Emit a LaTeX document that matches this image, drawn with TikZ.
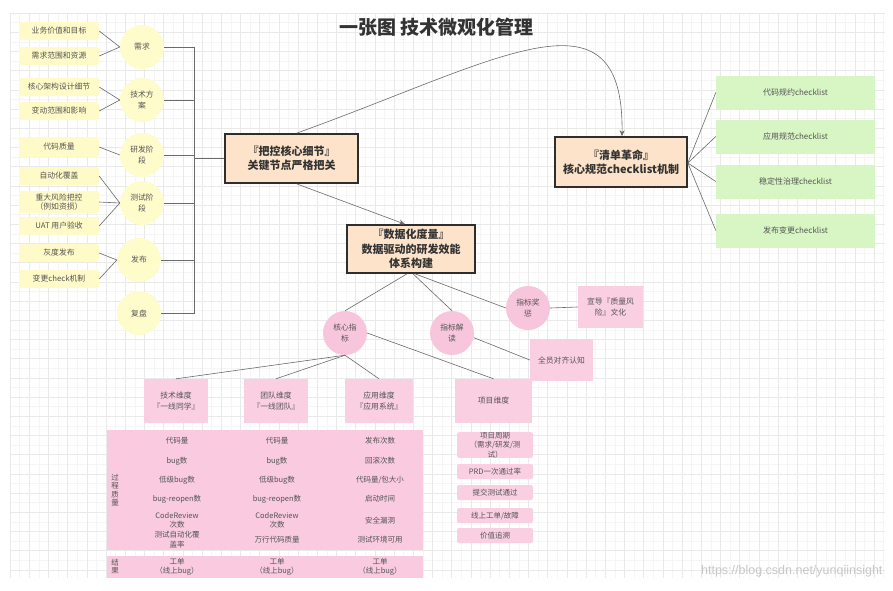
\documentclass[tikz,border=0pt]{standalone}
\usepackage{fontspec}
\setmainfont{Noto Sans CJK SC}
\newfontfamily\wmfont{Liberation Sans}
\usetikzlibrary{arrows.meta,calc}
\definecolor{yelC}{HTML}{FFFCCB}
\definecolor{yelF}{HTML}{FFFBC8}
\definecolor{peach}{HTML}{FCE3CA}
\definecolor{bord}{HTML}{2E2E2E}
\definecolor{grn}{HTML}{D8F5C4}
\definecolor{pinkC}{HTML}{F8C6DC}
\definecolor{pinkB}{HTML}{FACFE2}
\definecolor{pinkT}{HTML}{F9CAE0}
\definecolor{txt}{HTML}{555555}
\definecolor{dtxt}{HTML}{333333}
\definecolor{lineC}{HTML}{6A6A6A}
\definecolor{gmin}{HTML}{F6F5F6}
\definecolor{gmaj}{HTML}{EAE9EA}
\newcommand\fs[2]{\fontsize{#1}{#2}\selectfont}
\tikzset{
  leaf/.style={fill=yelF, rounded corners=2pt, minimum width=80pt, minimum height=18pt, inner sep=0pt, font=\fs{7.8}{9.5}, text=txt, align=center},
  ycirc/.style={circle, fill=yelC, minimum size=44pt, inner sep=0pt, font=\fs{7.8}{11}, text=txt, align=center},
  mainbox/.style={draw=bord, line width=1.6pt, fill=peach, inner sep=0pt, font=\fs{11}{14.5}\bfseries, text=dtxt, align=center},
  gbox/.style={fill=grn, minimum width=159pt, minimum height=34pt, inner sep=0pt, font=\fs{8}{10}, text=txt},
  pcirc/.style={circle, fill=pinkC, minimum size=44pt, inner sep=0pt, font=\fs{7.8}{11}, text=txt, align=center},
  pbox/.style={fill=pinkB, inner sep=0pt, font=\fs{7.8}{11}, text=txt, align=center},
  plist/.style={fill=pinkB, rounded corners=2pt, minimum width=76pt, minimum height=15pt, inner sep=0pt, font=\fs{7.5}{9.3}, text=txt, align=center},
  cell/.style={inner sep=0pt, font=\fs{7.5}{9.3}, text=txt, align=center},
  conn/.style={draw=lineC, line width=0.6pt},
  arr/.style={conn, -{Stealth[length=6pt,width=5pt]}},
}
\begin{document}
\begin{tikzpicture}[x=1pt,y=-1pt]
\useasboundingbox (0,0) rectangle (893,590);
\fill[white] (0,0) rectangle (893,590);
% grid
\begin{scope}
\clip (10,13) rectangle (885,578);
\foreach \i in {0,...,92} \draw[gmin, line width=0.4pt] ({10+9.6*\i},13) -- ({10+9.6*\i},578);
\foreach \j in {0,...,59} \draw[gmin, line width=0.4pt] (10,{13+9.6*\j}) -- (885,{13+9.6*\j});
\foreach \i in {0,...,46} \draw[gmaj, line width=0.5pt] ({10+19.2*\i},13) -- ({10+19.2*\i},578);
\foreach \j in {0,...,30} \draw[gmaj, line width=0.5pt] (10,{13+19.2*\j}) -- (885,{13+19.2*\j});
\end{scope}

% title
\node[font=\fs{19}{22}\bfseries, text=dtxt] (title) at (436.5,27) {一张图\ 技术微观化管理};

% left leaves
\node[leaf] (l1) at (59,31) {业务价值和目标};
\node[leaf] (l2) at (59,56) {需求范围和资源};
\node[leaf] (l3) at (59,87) {核心架构设计细节};
\node[leaf] (l4) at (59,111) {变动范围和影响};
\node[leaf, minimum height=20pt] (l5) at (59,147) {代码质量};
\node[leaf] (l6) at (59,176) {自动化覆盖};
\node[leaf, minimum height=22pt] (l7) at (59,202) {重大风险把控\\（例如资损）};
\node[leaf] (l8) at (59,226) {UAT 用户验收};
\node[leaf] (l9) at (59,253) {灰度发布};
\node[leaf] (l10) at (59,279) {变更check机制};

% yellow circles
\node[ycirc] (c1) at (142,47) {需求};
\node[ycirc] (c2) at (142,100) {技术方\\案};
\node[ycirc] (c3) at (142,155) {研发阶\\段};
\node[ycirc] (c4) at (142,203) {测试阶\\段};
\node[ycirc] (c5) at (139,260) {发布};
\node[ycirc] (c6) at (139,313) {复盘};

\foreach \a/\b in {l1/c1,l2/c1,l3/c2,l4/c2,l5/c3,l6/c4,l7/c4,l8/c4,l9/c5,l10/c5}
  \draw[conn] (\a.east) -- (\b.west);

% main boxes
\node[mainbox, minimum width=133pt, minimum height=49pt] (kz) at (291.5,158.5) {『把控核心细节』\\关键节点严格把关};
\node[mainbox, minimum width=132pt, minimum height=50pt] (qd) at (621,162) {『清单革命』\\核心规范checklist机制};
\node[mainbox, minimum width=128pt, minimum height=48pt] (dsj) at (411,249) {『数据化度量』\\数据驱动的研发效能\\体系构建};

% bus from circles to kz
\coordinate (bus) at (194,0);
\foreach \c in {c1,c2,c3,c4,c5,c6}
  \draw[conn] (\c.east) -- (\c.east -| bus) |- (kz.west);

% arrows
\draw[arr] ([xshift=5pt]kz.north) .. controls (500,60) and (624,-20) .. ([xshift=1pt]qd.north);
\draw[arr] ([xshift=5pt]kz.south) -- ([xshift=-6pt]dsj.north);

% green boxes
\node[gbox] (g1) at (795.5,92.5) {代码规约checklist};
\node[gbox] (g2) at (795.5,136.5) {应用规范checklist};
\node[gbox] (g3) at (795.5,181.5) {稳定性治理checklist};
\node[gbox] (g4) at (795.5,230.5) {发布变更checklist};
\foreach \g in {g1,g2,g3,g4}
  \draw[conn] ([yshift=-1pt]qd.east) -- (\g.west);

% pink circles and boxes
\node[pcirc] (hx) at (345,333) {核心指\\标};
\node[pcirc] (jd) at (452,333) {指标解\\读};
\node[pcirc] (jc) at (528,308) {指标奖\\惩};
\node[pbox, minimum width=65pt, minimum height=42pt] (xd) at (610.5,307) {宣导『质量风\\险』文化};
\node[pbox, minimum width=63pt, minimum height=42pt] (qy) at (561.5,360) {全员对齐认知};

\draw[conn] ([xshift=-4pt]dsj.south) -- (hx.north);
\draw[conn] ([xshift=2pt]dsj.south) -- (jd.north);
\draw[conn] ([xshift=4pt]dsj.south) -- (jc.west);
\draw[conn] (jc.east) -- (xd.west);
\draw[conn] (jd.-12) -- (qy.west);

% dimension boxes
\node[pbox, minimum width=64pt, minimum height=44pt] (js) at (176,401) {技术维度\\『一线同学』};
\node[pbox, minimum width=64pt, minimum height=44pt] (td) at (276,401) {团队维度\\『一线团队』};
\node[pbox, minimum width=68pt, minimum height=44pt] (yy) at (379,401) {应用维度\\『应用系统』};
\node[pbox, minimum width=77pt, minimum height=44pt] (xm) at (493.5,401) {项目维度};
\draw[conn] (hx.south) -- (js.north);
\draw[conn] (hx.south) -- (td.north);
\draw[conn] (hx.south) -- (yy.north);
\draw[conn] (hx.east) -- (xm.north);

% table
\fill[pinkT] (107,430) rectangle (423,550);
\fill[pinkT] (107,556) rectangle (423,578);
\node[cell, font=\fs{7.5}{8.2}] (lbl1) at (115,490) {过\\程\\质\\量};
\node[cell, font=\fs{7.5}{8.2}] (lbl2) at (115,567) {结\\果};

\node[cell] (a1) at (177,441) {代码量};
\node[cell] (a2) at (177,461) {bug数};
\node[cell] (a3) at (177,480) {低级bug数};
\node[cell] (a4) at (177,499) {bug-reopen数};
\node[cell] (a5) at (177,520.5) {CodeReview\\次数};
\node[cell] (a6) at (177,539.5) {测试自动化覆\\盖率};
\node[cell] (a7) at (177,566.5) {工单\\（线上bug）};

\node[cell] (b1) at (277,441) {代码量};
\node[cell] (b2) at (277,461) {bug数};
\node[cell] (b3) at (277,480) {低级bug数};
\node[cell] (b4) at (277,499) {bug-reopen数};
\node[cell] (b5) at (277,520.5) {CodeReview\\次数};
\node[cell] (b6) at (277,540) {万行代码质量};
\node[cell] (b7) at (277,566.5) {工单\\（线上bug）};

\node[cell] (d1) at (380,441) {发布次数};
\node[cell] (d2) at (380,461) {回滚次数};
\node[cell] (d3) at (380,480) {代码量/包大小};
\node[cell] (d4) at (380,499) {启动时间};
\node[cell] (d5) at (380,521) {安全漏洞};
\node[cell] (d6) at (380,540) {测试环境可用};
\node[cell] (d7) at (380,566.5) {工单\\（线上bug）};

% project list
\node[plist, minimum height=24pt] (p1) at (495,445) {项目周期\\（需求/研发/测\\试）};
\node[plist] (p2) at (495,471.5) {PRD一次通过率};
\node[plist] (p3) at (495,492.5) {提交测试通过};
\node[plist] (p4) at (495,515.5) {线上工单/故障};
\node[plist] (p5) at (495,535.5) {价值追溯};

% watermark
\node[anchor=east, font=\wmfont\fs{12.5}{14}, text=black!22] (wm) at (886,571) {https://blog.csdn.net/yunqiinsight};
\end{tikzpicture}
\end{document}
